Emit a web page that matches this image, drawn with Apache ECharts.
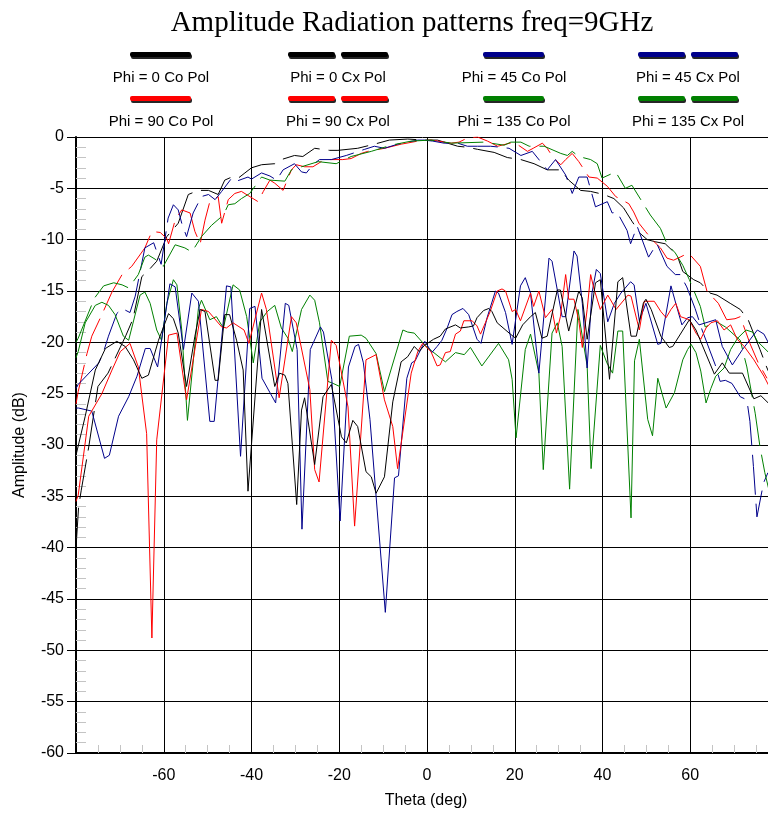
<!DOCTYPE html>
<html>
<head>
<meta charset="utf-8">
<title>Amplitude Radiation patterns freq=9GHz</title>
<script src="https://cdn.jsdelivr.net/npm/echarts/dist/echarts.min.js"></script>
<style>
  html, body { margin: 0; padding: 0; background: #fff; }
  #chart { width: 768px; height: 815px; }
</style>
</head>
<body>
<div id="chart"></div>
<script>
// Measured patterns: [theta (deg), amplitude (dB)]
// Co-polar cuts
const coPhi0 = [[-80,-40.0],[-79.4,-36.0],[-78.8,-34.4],[-77.1,-30.2],[-75.0,-24.3],[-72.7,-23.0],[-68.6,-19.3],[-67.0,-17.7],[-65.0,-13.6],[-63.5,-13.0],[-61.6,-12.1],[-59.3,-9.7],[-56.7,-8.4],[-54.4,-5.6],[-52.1,-5.2],[-49.8,-5.2],[-47.6,-5.6],[-46.1,-4.2],[-44.5,-3.9],[-43.0,-4.0],[-41.5,-3.5],[-40.0,-3.0],[-37.7,-2.7],[-34.7,-2.6],[-33.2,-2.2],[-30.2,-1.8],[-28.3,-1.9],[-25.6,-1.1],[-22.2,-1.3],[-20.3,-1.3],[-15.8,-1.1],[-12.0,-0.7],[-8.6,-0.3],[-4.4,-0.2],[-0.6,-0.3],[2.4,-0.3],[4.7,-0.6],[7.0,-0.9],[9.2,-1.0],[11.5,-1.2],[15.3,-1.5],[18.3,-2.0],[21.4,-2.2],[24.4,-2.6],[27.4,-3.2],[30.5,-3.2],[32.3,-4.2],[35.0,-5.2],[37.3,-5.3],[40.3,-5.6],[42.6,-6.0],[44.8,-6.9],[46.7,-8.2],[48.6,-9.4],[50.2,-10.0],[52.0,-10.2],[54.3,-10.4],[57.0,-11.5],[58.3,-13.1],[60.8,-13.9],[62.3,-14.2],[64.5,-15.2],[66.1,-15.4],[69.1,-16.2],[71.4,-16.8],[73.2,-17.8],[75.9,-20.7],[77.4,-22.4],[78.5,-23.5]];

const coPhi45 = [[-80,-24.5],[-79.5,-24.1],[-74.8,-22.0],[-73.7,-20.9],[-72.6,-19.4],[-70.7,-17.2],[-69.5,-16.7],[-67.7,-17.1],[-66.5,-15.5],[-64.3,-10.8],[-62.3,-10.3],[-60.6,-12.4],[-59.0,-7.9],[-57.8,-6.6],[-56.7,-7.1],[-55.9,-8.4],[-54.8,-9.7],[-53.3,-7.4],[-51.4,-5.8],[-49.8,-5.6],[-48.3,-6.1],[-46.8,-5.3],[-44.5,-4.0],[-43.4,-4.3],[-40.8,-3.9],[-40.0,-4.1],[-37.7,-3.5],[-35.8,-3.8],[-34.3,-4.2],[-32.8,-3.2],[-30.2,-2.6],[-28.6,-3.4],[-27.5,-3.5],[-26.0,-2.7],[-24.5,-2.2],[-21.8,-2.2],[-18.4,-1.8],[-14.2,-1.2],[-12.0,-0.9],[-9.7,-1.1],[-6.7,-0.7],[-2.1,-0.3],[-0.6,-0.3],[1.3,-0.4],[3.9,-0.6],[7.0,-0.6],[9.2,-0.9],[11.5,-0.9],[14.5,-0.9],[16.8,-1.0],[18.7,-1.1],[21.4,-1.8],[24.0,-1.4],[27.4,-3.2],[29.3,-2.2],[31.6,-3.7],[33.1,-5.5],[34.6,-3.9],[36.5,-3.9],[38.4,-6.8],[41.1,-6.3],[42.2,-7.4],[43.3,-7.3],[45.6,-9.1],[46.4,-10.4],[47.9,-8.7],[50.5,-11.7],[52.4,-10.4],[54.7,-12.6],[56.6,-13.4],[57.7,-13.4],[59.2,-14.6],[61.1,-16.7],[62.7,-18.8],[65.7,-22.2],[66.8,-23.8],[68.0,-23.7],[69.5,-24.0],[71.4,-25.3],[72.9,-25.6],[73.6,-27.7],[74.4,-32.1],[75.2,-37.0],[76.7,-33.7],[77.7,-32.7]];

const coPhi90 = [[-80,-26.0],[-79.5,-24.8],[-77.5,-21.1],[-76.4,-19.4],[-74.1,-17.3],[-71.8,-15.1],[-69.5,-13.4],[-67.3,-12.6],[-64.3,-10.8],[-62.7,-9.2],[-60.8,-9.3],[-59.3,-9.9],[-58.9,-10.4],[-57.4,-8.1],[-55.9,-7.1],[-54.0,-7.4],[-52.9,-9.2],[-51.7,-10.4],[-50.6,-8.1],[-49.5,-6.3],[-47.6,-5.8],[-46.8,-8.4],[-45.3,-6.1],[-43.8,-5.5],[-42.3,-5.3],[-38.5,-6.3],[-37.3,-5.3],[-35.8,-4.2],[-34.7,-4.5],[-32.8,-5.2],[-30.9,-3.2],[-29.8,-2.7],[-27.9,-2.9],[-26.0,-2.9],[-24.1,-2.4],[-22.6,-2.2],[-19.2,-2.2],[-17.3,-2.1],[-15.0,-1.6],[-13.5,-1.4],[-9.7,-1.1],[-5.9,-0.7],[-2.1,-0.4],[0.9,-0.3],[3.9,-0.5],[5.5,-0.6],[7.3,-0.5],[9.2,-0.1],[11.5,0.0],[13.8,-0.4],[16.1,-0.9],[19.8,-0.5],[22.9,-1.4],[24.2,-1.1],[26.3,-0.6],[27.4,-1.1],[28.9,-2.1],[30.5,-2.7],[31.6,-2.2],[33.1,-1.6],[34.6,-2.4],[36.9,-3.9],[38.8,-4.0],[41.1,-4.8],[43.0,-5.8],[46.0,-6.5],[47.1,-7.3],[48.3,-8.4],[49.8,-9.2],[51.3,-10.0],[53.2,-10.8],[54.7,-11.8],[56.2,-12.0],[57.7,-11.7],[59.6,-11.3],[62.3,-12.6],[63.8,-15.0],[66.4,-16.2],[68.3,-17.8],[70.2,-17.7],[71.4,-17.5],[72.5,-18.8],[73.6,-20.1],[75.5,-22.0],[77.5,-23.5]];

const coPhi135 = [[-80,-20.0],[-79.5,-19.6],[-75.8,-15.7],[-73.7,-14.5],[-71.4,-14.2],[-69.5,-14.4],[-68.0,-14.7],[-65.8,-13.4],[-64.3,-11.7],[-63.5,-11.5],[-61.6,-12.0],[-60.1,-12.6],[-57.4,-10.5],[-55.2,-10.8],[-53.6,-11.2],[-51.4,-9.7],[-49.1,-8.6],[-46.4,-7.6],[-45.3,-6.6],[-43.8,-6.5],[-42.3,-6.0],[-40.4,-5.5],[-37.7,-3.9],[-35.8,-4.2],[-32.4,-4.3],[-30.9,-3.2],[-24.8,-2.4],[-20.7,-2.6],[-17.3,-1.9],[-12.7,-1.4],[-8.2,-0.8],[-3.6,-0.4],[0.9,-0.3],[5.5,-0.6],[13.0,-0.5],[17.6,-0.8],[19.1,-0.5],[21.4,-0.5],[23.3,-0.9],[26.7,-0.9],[30.5,-1.6],[32.0,-1.8],[33.1,-1.4],[34.6,-1.9],[37.3,-2.2],[38.8,-2.6],[39.9,-4.0],[43.0,-3.4],[45.2,-5.0],[46.7,-4.7],[50.9,-7.6],[53.2,-8.9],[54.7,-10.4],[56.6,-11.3],[58.3,-12.5],[59.8,-13.9],[62.3,-16.5],[63.4,-18.5],[66.0,-18.0],[68.0,-18.5],[71.4,-19.8],[72.9,-22.4],[74.8,-26.9],[75.9,-30.2],[77.0,-32.7],[78.0,-34.5]];

// Cross-polar cuts
const cxPhi0 = [[-80,-31.0],[-77.9,-27.2],[-75.6,-22.7],[-73.3,-20.6],[-70.7,-19.9],[-68.8,-20.4],[-66.9,-21.7],[-65.0,-23.5],[-63.5,-23.2],[-61.2,-19.8],[-58.9,-17.2],[-57.8,-17.7],[-56.7,-19.1],[-54.8,-24.3],[-52.9,-19.4],[-51.7,-16.8],[-50.6,-17.0],[-48.3,-23.7],[-47.6,-23.7],[-46.1,-17.3],[-45.0,-17.3],[-43.4,-19.8],[-41.9,-22.7],[-40.8,-34.5],[-37.7,-16.8],[-34.7,-24.3],[-33.6,-23.0],[-32.4,-23.2],[-31.7,-24.0],[-29.7,-35.8],[-28.6,-26.6],[-27.9,-25.4],[-25.6,-31.9],[-23.7,-25.3],[-21.8,-24.1],[-19.5,-29.2],[-18.4,-29.8],[-16.9,-27.6],[-15.8,-28.2],[-13.9,-32.6],[-12.7,-33.1],[-11.6,-34.7],[-9.7,-33.1],[-7.8,-25.8],[-5.9,-21.9],[-4.4,-21.4],[-2.9,-20.4],[-1.8,-20.9],[-0.6,-20.3],[1.5,-19.7],[3.0,-19.4],[4.2,-18.7],[6.5,-18.3],[7.6,-18.6],[9.5,-18.5],[10.6,-18.4],[11.4,-17.6],[12.9,-16.9],[14.1,-16.7],[14.8,-17.0],[16.0,-18.1],[19.0,-19.2],[20.2,-19.6],[21.8,-18.3],[23.6,-17.5],[24.7,-17.1],[26.2,-19.6],[27.4,-19.4],[29.7,-14.9],[30.4,-14.9],[32.3,-18.9],[34.6,-15.0],[35.4,-15.7],[36.5,-19.7],[38.4,-14.2],[39.5,-13.9],[41.6,-23.6],[43.5,-14.1],[44.6,-13.7],[46.5,-19.4],[47.7,-19.4],[49.3,-16.2],[49.9,-15.8],[51.1,-16.8],[53.3,-19.4],[55.2,-20.5],[56.0,-20.4],[59.8,-17.8],[61.3,-18.8],[65.5,-23.1],[67.3,-22.0],[68.9,-23.0],[71.9,-23.0],[74.5,-25.5],[76.1,-25.2],[78.0,-26.0]];

const cxPhi45 = [[-80,-26.4],[-79.4,-26.4],[-76.4,-26.7],[-73.5,-31.3],[-72.4,-31.0],[-70.3,-27.2],[-68.0,-25.3],[-66.1,-23.3],[-64.2,-20.6],[-63.1,-20.6],[-61.4,-22.4],[-58.6,-14.3],[-57.4,-14.6],[-55.5,-20.7],[-53.6,-15.2],[-52.1,-16.0],[-49.5,-27.7],[-48.5,-27.7],[-45.7,-14.5],[-44.7,-14.6],[-42.5,-31.1],[-40.4,-16.7],[-39.2,-16.5],[-37.6,-23.5],[-34.5,-25.9],[-32.3,-16.2],[-31.5,-16.4],[-29.6,-20.7],[-28.5,-38.2],[-26.6,-20.7],[-24.3,-18.5],[-23.6,-19.0],[-21.7,-23.6],[-19.8,-37.4],[-17.9,-22.4],[-16.4,-20.4],[-15.6,-20.2],[-14.5,-22.0],[-13.0,-27.5],[-9.5,-46.3],[-7.4,-33.2],[-6.5,-33.0],[-4.6,-23.5],[-3.5,-22.0],[-2.7,-21.8],[-0.5,-19.9],[1.1,-21.0],[2.3,-20.4],[3.4,-19.8],[4.6,-18.6],[5.7,-17.3],[6.8,-17.0],[8.2,-16.7],[9.5,-17.3],[11.4,-19.7],[12.3,-20.1],[13.7,-17.6],[15.6,-15.0],[16.3,-15.2],[17.9,-17.1],[19.4,-20.2],[21.3,-14.5],[22.4,-13.7],[23.6,-15.2],[25.5,-23.0],[27.8,-11.8],[28.5,-12.1],[29.7,-14.9],[30.8,-17.5],[31.6,-17.5],[33.5,-11.1],[34.2,-11.6],[35.4,-16.2],[36.5,-22.5],[37.6,-15.2],[38.6,-12.9],[39.5,-13.3],[41.2,-18.0],[42.7,-16.2],[44.2,-15.2],[46.4,-14.1],[47.2,-14.4],[48.4,-17.9],[49.9,-16.2],[52.6,-20.2],[53.3,-20.1],[55.6,-14.5],[56.7,-16.2],[58.1,-18.3],[59.4,-17.6],[60.5,-17.5],[62.0,-18.3],[65.8,-17.8],[67.3,-20.4],[69.6,-22.2],[71.9,-20.7],[75.3,-18.8],[76.8,-19.2],[78.0,-20.2]];

const cxPhi90 = [[-80,-35.5],[-79.5,-34.9],[-77.1,-27.2],[-74.1,-25.0],[-71.8,-22.7],[-69.9,-20.9],[-67.7,-20.1],[-65.8,-22.4],[-63.9,-28.9],[-62.7,-48.8],[-61.6,-29.5],[-58.9,-19.3],[-57.0,-19.1],[-54.8,-25.6],[-51.4,-16.8],[-49.8,-17.0],[-46.8,-18.5],[-45.7,-18.6],[-44.2,-18.1],[-41.7,-18.8],[-40.6,-20.1],[-37.7,-15.2],[-36.6,-16.8],[-33.7,-25.4],[-30.9,-17.5],[-29.8,-18.1],[-26.7,-24.6],[-25.6,-32.4],[-24.6,-33.6],[-21.8,-19.8],[-20.7,-20.3],[-18.0,-26.3],[-16.5,-37.9],[-13.9,-21.7],[-11.6,-21.2],[-9.7,-25.6],[-7.8,-28.2],[-6.7,-32.3],[-3.6,-23.0],[-2.1,-20.9],[-1.0,-20.1],[0.9,-20.9],[2.3,-22.3],[3.0,-22.2],[4.2,-21.0],[5.3,-20.9],[6.5,-19.2],[7.6,-18.9],[8.4,-17.9],[10.3,-17.9],[11.4,-18.4],[12.2,-19.2],[13.3,-18.1],[14.4,-17.0],[16.0,-15.0],[17.1,-14.8],[17.9,-15.0],[19.4,-17.0],[20.2,-16.8],[21.3,-17.9],[23.6,-15.2],[24.3,-16.5],[25.5,-15.0],[27.0,-17.6],[28.5,-16.8],[29.5,-19.1],[30.4,-17.5],[31.6,-13.4],[32.3,-15.8],[33.5,-15.8],[34.6,-17.9],[35.4,-20.5],[36.5,-16.8],[37.3,-13.4],[38.0,-14.7],[39.5,-16.8],[41.2,-15.4],[43.1,-16.8],[45.8,-15.4],[46.5,-15.5],[48.4,-18.8],[49.5,-16.0],[51.8,-16.0],[53.3,-17.0],[54.5,-17.6],[55.6,-16.8],[56.7,-16.2],[57.8,-17.5],[59.8,-17.8],[61.3,-19.1],[62.4,-19.7],[63.6,-18.6],[64.7,-18.1],[66.2,-17.9],[67.7,-18.8],[69.2,-18.3],[70.7,-19.7],[72.3,-20.4],[74.5,-21.7],[76.8,-23.3],[78.0,-24.3]];

const cxPhi135 = [[-80,-21.5],[-79.5,-20.9],[-77.9,-18.1],[-75.6,-16.4],[-74.1,-16.1],[-72.6,-16.4],[-71.1,-17.3],[-69.2,-19.4],[-68.0,-19.8],[-65.4,-15.4],[-64.3,-15.1],[-63.1,-16.2],[-61.6,-18.8],[-60.5,-19.8],[-59.3,-16.2],[-57.8,-13.9],[-57.0,-14.4],[-55.9,-18.8],[-54.6,-27.6],[-52.1,-16.7],[-51.4,-15.9],[-49.5,-17.8],[-48.0,-17.5],[-46.4,-18.6],[-44.2,-14.4],[-42.7,-14.9],[-41.1,-17.5],[-39.6,-22.0],[-38.1,-18.0],[-36.4,-17.0],[-34.7,-16.4],[-33.2,-18.6],[-31.7,-19.6],[-30.7,-20.9],[-28.6,-16.8],[-26.7,-15.4],[-25.6,-15.9],[-24.5,-18.1],[-22.6,-23.8],[-21.4,-24.0],[-19.9,-24.3],[-17.7,-19.4],[-15.0,-19.3],[-13.9,-19.6],[-11.6,-21.1],[-9.7,-24.8],[-5.5,-18.8],[-4.4,-19.0],[-2.9,-19.1],[-0.2,-20.4],[3.0,-21.5],[4.2,-21.9],[6.5,-21.0],[8.5,-21.2],[9.9,-20.5],[12.5,-22.3],[16.3,-20.1],[18.6,-21.7],[19.4,-23.6],[20.3,-29.3],[22.4,-20.7],[23.6,-19.2],[25.5,-23.0],[26.5,-32.4],[28.5,-19.1],[29.7,-18.1],[30.8,-20.4],[32.5,-34.3],[34.4,-16.8],[36.5,-22.3],[37.4,-32.3],[39.5,-20.3],[41.0,-22.0],[42.3,-23.0],[43.5,-18.9],[44.6,-18.9],[46.5,-37.1],[47.3,-21.8],[48.4,-19.7],[50.3,-27.5],[51.4,-29.1],[52.6,-23.5],[54.5,-26.4],[56.4,-24.9],[58.3,-21.7],[59.4,-20.7],[60.2,-20.2],[61.3,-21.0],[62.4,-22.8],[63.6,-25.9],[64.7,-24.5],[65.8,-23.3],[67.7,-22.5],[69.2,-20.7],[70.8,-19.6],[72.7,-18.8],[74.2,-19.0],[75.3,-19.9],[77.9,-21.0]];

// Axis ticks
const thetaTicks = [-80, -60, -40, -20, 0, 20, 40, 60, 80];
const ampTicks = [0, -5, -10, -15, -20, -25, -30, -35, -40, -45, -50, -55, -60];

// Legend entries, in the order they are laid out (row by row)
const legendNames = ['Phi = 0 Co Pol', 'Phi = 0 Cx Pol', 'Phi = 45 Co Pol', 'Phi = 45 Cx Pol',
                     'Phi = 90 Co Pol', 'Phi = 90 Cx Pol', 'Phi = 135 Co Pol', 'Phi = 135 Cx Pol'];

const BLACK = '#000000', RED = '#ff0000', BLUE = '#00008b', GREEN = '#008000';
const SANS = '"Liberation Sans Narrow", "Liberation Sans", Arial, sans-serif';

const seriesSpec = [
  { name: 'Phi = 0 Co Pol',   data: coPhi0,   color: BLACK, co: true },
  { name: 'Phi = 90 Co Pol',  data: coPhi90,  color: RED,   co: true },
  { name: 'Phi = 45 Co Pol',  data: coPhi45,  color: BLUE,  co: true },
  { name: 'Phi = 135 Co Pol', data: coPhi135, color: GREEN, co: true },
  { name: 'Phi = 135 Cx Pol', data: cxPhi135, color: GREEN, co: false },
  { name: 'Phi = 45 Cx Pol',  data: cxPhi45,  color: BLUE,  co: false },
  { name: 'Phi = 90 Cx Pol',  data: cxPhi90,  color: RED,   co: false },
  { name: 'Phi = 0 Cx Pol',   data: cxPhi0,   color: BLACK, co: false }
];

const colorOf = {};
seriesSpec.forEach(s => { colorOf[s.name] = s.color; });

// Legend drawn as swatch bars above each label (Cx entries get a split bar)
const legendCols = [161, 338, 514, 688];
const legendBarY = [55, 99];
const legendTextY = [78, 122];
const legendGraphics = [];
legendNames.forEach((name, i) => {
  const col = i % 4, row = Math.floor(i / 4);
  const cx = legendCols[col];
  const color = colorOf[name];
  const split = name.indexOf('Cx') >= 0;
  const bars = split ? [[cx - 50, 47], [cx + 3, 47]] : [[cx - 31, 61]];
  bars.forEach(b => {
    legendGraphics.push({
      type: 'rect',
      shape: { x: b[0], y: legendBarY[row] - 3, width: b[1], height: 5, r: 2 },
      style: { fill: color, shadowColor: 'rgba(0,0,0,0.85)', shadowOffsetX: 1, shadowOffsetY: 2, shadowBlur: 0 },
      silent: true
    });
  });
  legendGraphics.push({
    type: 'text', x: cx, y: legendTextY[row],
    style: { text: name, fill: '#000', font: '15px ' + SANS, textAlign: 'center', textVerticalAlign: 'middle' },
    silent: true
  });
});

const chart = echarts.init(document.getElementById('chart'), null, { renderer: 'canvas' });

// The plot area runs a little past the right edge of the page (theta = 80 is off-screen)
chart.setOption({
  animation: false,
  backgroundColor: '#ffffff',
  grid: { left: 76, right: -10, top: 137, bottom: 62, containLabel: false, outerBoundsMode: 'none' },
  xAxis: {
    type: 'value', min: thetaTicks[0], max: thetaTicks[thetaTicks.length - 1], interval: 20,
    axisLine: { show: true, onZero: false, lineStyle: { color: '#000', width: 2 } },
    axisTick: { show: false, inside: true },
    minorTick: { show: true, splitNumber: 4, length: 8, lineStyle: { color: '#c4c4c4', width: 1 } },
    splitLine: { show: true, lineStyle: { color: '#000', width: 1 } },
    axisLabel: {
      color: '#000', fontSize: 16, fontFamily: SANS, margin: 15,
      formatter: v => (v === thetaTicks[0] || v === thetaTicks[thetaTicks.length - 1]) ? '' : String(v)
    }
  },
  yAxis: [
    {
      type: 'value', min: ampTicks[ampTicks.length - 1], max: ampTicks[0], interval: 5, position: 'left',
      axisLine: { show: true, onZero: false, lineStyle: { color: '#000', width: 2 } },
      axisTick: { show: true, inside: false, length: 9, lineStyle: { color: '#000', width: 1 } },
      splitLine: { show: true, lineStyle: { color: '#000', width: 1 } },
      axisLabel: { color: '#000', fontSize: 16, fontFamily: SANS, margin: 12 }
    },
    {
      type: 'value', min: ampTicks[ampTicks.length - 1], max: ampTicks[0], interval: 5, position: 'left',
      axisLine: { show: false, onZero: false },
      axisTick: { show: false, inside: true },
      minorTick: { show: true, splitNumber: 5, length: 10, lineStyle: { color: '#c4c4c4', width: 1 } },
      splitLine: { show: false },
      axisLabel: { show: false }
    }
  ],
  series: seriesSpec.map(s => ({
    name: s.name,
    type: 'line',
    yAxisIndex: 0,
    data: s.data,
    showSymbol: false,
    symbol: 'none',
    smooth: false,
    clip: true,
    lineStyle: { color: s.color, width: 1, type: s.co ? [40, 9] : 'solid' },
    emphasis: { disabled: true }
  })),
  graphic: [
    {
      type: 'text', x: 412, y: 23,
      style: { text: 'Amplitude Radiation patterns freq=9GHz', fill: '#000',
               font: '29px "Liberation Serif", "Times New Roman", serif', textAlign: 'center', textVerticalAlign: 'middle' },
      silent: true
    },
    {
      type: 'text', x: 20, y: 445, rotation: Math.PI / 2,
      style: { text: 'Amplitude (dB)', fill: '#000', font: '16px ' + SANS, textAlign: 'center', textVerticalAlign: 'middle' },
      silent: true
    },
    {
      type: 'text', x: 426, y: 801,
      style: { text: 'Theta (deg)', fill: '#000', font: '16px ' + SANS, textAlign: 'center', textVerticalAlign: 'middle' },
      silent: true
    }
  ].concat(legendGraphics)
});
</script>
</body>
</html>
